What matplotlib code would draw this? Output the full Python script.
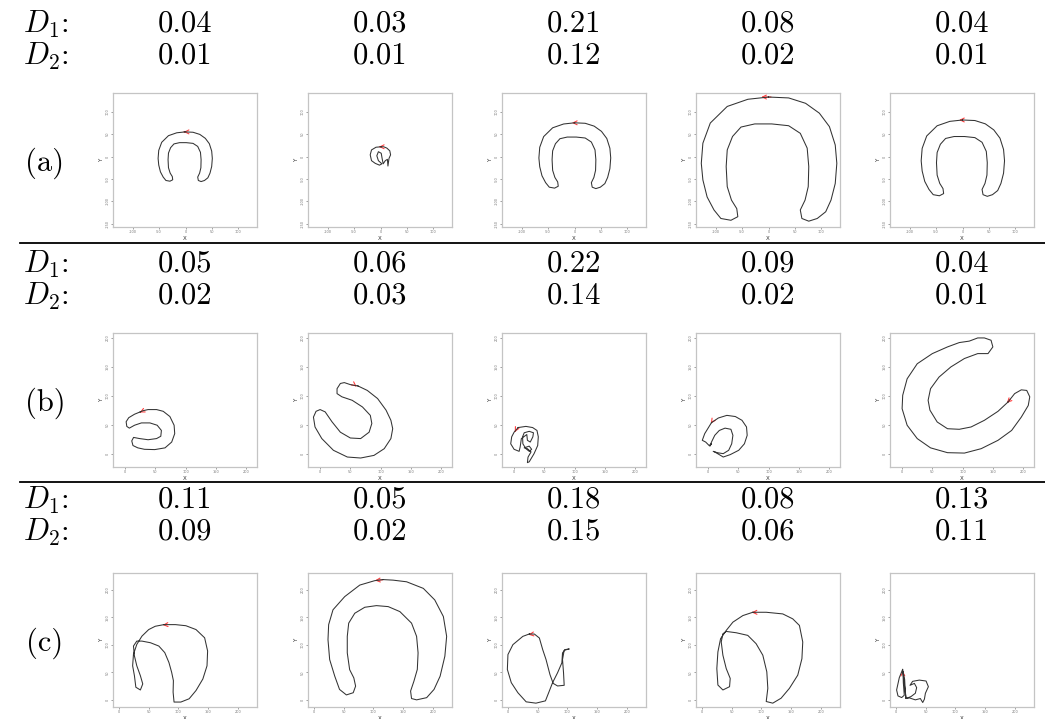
import matplotlib
matplotlib.use('Agg')
import matplotlib.pyplot as plt
from matplotlib.patches import FancyArrowPatch
from matplotlib.lines import Line2D

plt.rcParams['mathtext.fontset'] = 'cm'
plt.rcParams['axes.unicode_minus'] = False

# ---------------- data ----------------
row_labels = ['(a)', '(b)', '(c)']
d1_values = [[0.04, 0.03, 0.21, 0.08, 0.04],
             [0.05, 0.06, 0.22, 0.09, 0.04],
             [0.11, 0.05, 0.18, 0.08, 0.13]]
d2_values = [[0.01, 0.01, 0.12, 0.02, 0.01],
             [0.02, 0.03, 0.14, 0.02, 0.01],
             [0.09, 0.02, 0.15, 0.06, 0.11]]

# horseshoe outline (full-size, row (a) panel 4), data units
horseshoe = [(0, 133), (-39, 128), (-78, 112), (-110, 75), (-124, 30), (-127, -15),
             (-124, -52), (-116, -90), (-103, -119), (-90, -138), (-71, -142), (-58, -134),
             (-60, -116), (-70, -97), (-78, -67), (-80, -22), (-78, 15), (-68, 45),
             (-52, 66), (-26, 73), (6, 73), (38, 69), (60, 52), (73, 19), (76, -22),
             (75, -67), (69, -97), (60, -119), (63, -138), (76, -144), (92, -138),
             (108, -123), (118, -97), (126, -60), (129, -15), (126, 26), (115, 67),
             (96, 97), (70, 119), (38, 131)]
horseshoe_arrow = ((10, 133), (-19, 133))
# row (a): scale and offset of the horseshoe in each panel (None = own shape)
row_a_scale = [0.40, None, 0.53, 1.0, 0.615]
row_a_offset = [(-1, 2), None, (0, 5), (0, 0), (0, 0)]

shape_a2 = [(1.3, 22), (-8.5, 21), (-17, 15), (-19.5, 4), (-17, -9), (-10, -15), (-2, -19),
            (2.6, -16), (-4, -9), (-7, 2), (-4, 11), (1.3, 7.5), (3, -4), (5, -16), (9, -9),
            (13, -6), (14, -21), (16, -4), (19, 4), (17.5, 13), (12, 19), (6, 22)]
arrow_a2 = ((6, 22), (-3, 22))

shape_b1 = [(25, 72), (15.6, 68), (6, 62), (1.7, 55), (2.8, 47), (7, 44), (15.6, 49), (27, 53),
            (41, 53), (53, 49), (60, 40), (59, 30), (52, 26), (38, 24), (24, 26), (14, 28),
            (11, 22), (13, 14), (21, 10), (32, 7.5), (49, 7), (66, 10), (77, 20), (82, 34.5),
            (81, 49), (74, 64), (63, 73), (52, 76), (38, 76), (29.5, 74)]
arrow_b1 = ((30, 74), (20, 69))

shape_b2 = [(62.6, 116.7), (78, 109), (95, 95), (109, 75), (117, 57.5), (120, 43), (117, 26),
            (106, 8.6), (89, -3), (67, -7.5), (45, -5.8), (22, 5.8), (2.8, 26), (-8.4, 46),
            (-11, 63), (-6.7, 73), (0, 76), (8.4, 72), (19.6, 55), (33.5, 37), (50, 27),
            (67, 26), (81, 37), (85.5, 52), (83, 66), (70, 80.5), (53, 92), (36, 98),
            (28, 103.5), (28, 112), (33.5, 121), (40, 122.5), (50, 119)]
arrow_b2 = ((55, 120), (64, 113))

shape_b3 = [(6.7, 45), (19.5, 47), (30.6, 45), (37.8, 40), (40, 29), (39, 14), (33, 0),
            (25, -14), (22, -15.5), (23, -6), (28, 3), (22, 8.6), (16.7, 10), (25, 13),
            (29, 7.5), (25, 4), (19.5, 8.6), (14.5, 17), (14, 29), (16.7, 36), (25, 38.5),
            (32, 36), (31, 29), (26.7, 20), (22, 23), (21, 33), (12, 26), (10, 11.5),
            (8.3, 4), (0, 7.5), (-5.6, 17), (-4, 29), (0, 37)]
arrow_b3 = ((4, 43), (-1, 33))

shape_b4 = [(5.6, 53.5), (17, 61.5), (31, 66), (45, 64), (56, 57.5), (63.5, 46), (64.6, 31.6),
            (60, 17), (50.6, 5.8), (36.5, -1.7), (25, -5.8), (18.5, -1.7), (11, 2.9), (8.4, 4),
            (15, 1.7), (25, 0), (34, 5.8), (39, 17), (41, 31.6), (37.7, 42), (28, 44),
            (18.5, 40), (11, 31.6), (5.6, 20), (2.8, 13), (5.6, 17), (1.7, 14), (-4, 20),
            (-9.6, 23), (-5.6, 34.5), (0, 44)]
arrow_b4 = ((9, 59), (2, 48))

shape_b5 = [(175, 89), (158.5, 73), (136, 57.5), (114, 46), (94.5, 42), (75, 43), (58, 54.6),
            (46, 75), (43, 92), (47, 112), (61, 132), (80.6, 149.5), (103, 164), (125, 172.5),
            (142, 172.5), (150, 184), (147, 195.5), (136, 199.5), (125, 199.5), (111, 194),
            (94.5, 191.5), (75, 184), (50, 172.5), (25, 155), (8.3, 129), (1, 100.6), (0, 77.6),
            (8.3, 49), (25, 26), (47, 10), (75, 1.7), (103, 1), (130.7, 8.6), (158.5, 23),
            (181, 40), (197, 63), (208.5, 83), (211, 98), (206, 109), (197, 110), (186, 103.5)]
arrow_b5 = ((182, 97), (170, 84))

shape_c1 = [(75.5, 137), (61, 134), (50, 128), (38.6, 116), (30, 101), (24.4, 83), (23, 62),
            (26, 44), (28.4, 23), (36, 18), (40, 29), (36, 44), (30, 62), (26, 80), (24.4, 98),
            (30, 107), (38.6, 107), (53, 104), (67, 98), (77, 86), (84, 68), (88.6, 50),
            (91.5, 35), (91, 14), (92.6, -4), (104, -4), (118, 2), (129.5, 17), (141, 38),
            (148, 62), (149, 89), (144, 113), (129.5, 128), (112.5, 135), (95, 137)]
arrow_c1 = ((82, 137), (69, 136))

shape_c2 = [(116, 219), (102, 217), (77, 209), (51.7, 188), (32, 164), (24.7, 137),
            (23.6, 109.6), (26.4, 73.4), (35, 43), (43, 19), (54.5, 9), (66, 13), (70, 25),
            (67, 40), (60, 55), (56, 85.5), (56, 115.6), (58.4, 139.7), (68.6, 157.7),
            (85.4, 168.6), (105, 171.6), (124.8, 169.8), (144.4, 160.7), (164, 139.7),
            (172.5, 115.6), (175, 85.5), (173.7, 55.4), (168, 34), (162.4, 16), (164, 2.4),
            (172.5, 0), (189.4, 4), (201.8, 19), (212, 43), (220, 79.5), (223, 115.6),
            (217.5, 151.7), (203, 182), (183.8, 203), (155.7, 215), (133, 218)]
arrow_c2 = ((120, 219), (98, 217))

shape_c3 = [(36, 120), (25, 115.6), (8.3, 100.5), (0, 82.5), (-1, 55.4), (5.6, 31.3),
            (16.7, 13), (30.6, -3.6), (47, -6), (63, -1.8), (68.4, 13), (75, 31.3),
            (83.4, 49.4), (90.6, 67.4), (91.7, 85.5), (96, 91.5), (103, 92.7), (94.5, 90.3),
            (91.7, 73.4), (93.4, 49.4), (94.5, 26.5), (83.4, 25.3), (76, 30), (70.6, 46),
            (64, 73.4), (58.4, 91.5), (52.8, 112.6), (44.5, 119.8)]
arrow_c3 = ((43, 120), (30, 118))

shape_c4 = [(85.5, 159.5), (68.8, 153.5), (52, 141.5), (40.8, 126.4), (31.3, 111.4),
            (26.8, 87.3), (25, 57), (26.8, 27), (35.2, 18), (46.4, 24), (47.5, 39), (40.8, 57),
            (35.2, 81.3), (32.4, 105.4), (35.2, 120.4), (40.8, 124.6), (57.6, 122.2),
            (77, 117.4), (91, 102.3), (102.3, 81.3), (109, 51), (110.7, 21), (108, -3),
            (119, -6), (133, 3), (147, 21), (161, 45), (168, 75), (169.4, 105.4),
            (163.8, 135.5), (152.6, 147.5), (135.8, 156.5), (108, 159.5)]
arrow_c4 = ((94, 159.5), (79, 159))

shape_c5 = [(11.2, 55.4), (5.6, 40.3), (1.1, 18), (3.4, 7.2), (9.6, 4.2), (14, 8.4),
            (12.4, 31.3), (11.8, 52.4), (14.6, 37.3), (15.7, 16.3), (16.9, 2.4), (25.3, 6),
            (32.6, 12), (34.8, 22.3), (31, 30), (23.6, 26.5), (28, 33.7), (39.3, 36),
            (50.6, 34.3), (54.5, 24), (49.5, 12), (47.8, 1.2), (45, -4.8), (41, 2.4),
            (32.6, 0), (22.5, 3.6), (16.9, 2.4)]
arrow_c5 = ((11.5, 46), (11.2, 58))

row_shapes = [[None, shape_a2, None, None, None],
              [shape_b1, shape_b2, shape_b3, shape_b4, shape_b5],
              [shape_c1, shape_c2, shape_c3, shape_c4, shape_c5]]
row_arrows = [[None, arrow_a2, None, None, None],
              [arrow_b1, arrow_b2, arrow_b3, arrow_b4, arrow_b5],
              [arrow_c1, arrow_c2, arrow_c3, arrow_c4, arrow_c5]]

row_xlim = [(-137, 135), (-20, 218), (-10, 232)]
row_ylim = [(-157, 142), (-23, 208), (-13, 231)]
row_xticks = [[-100, -50, 0, 50, 100], [0, 50, 100, 150, 200], [0, 50, 100, 150, 200]]
row_yticks = [[-150, -100, -50, 0, 50, 100], [0, 50, 100, 150, 200], [0, 50, 100, 150, 200]]

# ---------------- layout ----------------
W, H = 1045, 719
fig = plt.figure(figsize=(W / 100, H / 100), dpi=100)

col_left = [113, 308, 502, 696, 890]
box_w, box_h = 144, 134
row_top = [93, 333, 573]
d1_y = [24, 264, 500]
d2_y = [56, 296, 532]
label_y = [163, 403, 643]
hline_y = [243, 482]
FS = 22


def fx(px):
    return px / W


def fy(py):
    return 1 - py / H


for r in range(3):
    fig.text(fx(23), fy(d1_y[r]), r'$D_1$:', fontsize=FS, family='cmr10',
             ha='left', va='center')
    fig.text(fx(23), fy(d2_y[r]), r'$D_2$:', fontsize=FS, family='cmr10',
             ha='left', va='center')
    fig.text(fx(45), fy(label_y[r]), row_labels[r], fontsize=FS, family='cmr10',
             ha='center', va='center')
    for c in range(5):
        cx = col_left[c] + box_w / 2
        fig.text(fx(cx), fy(d1_y[r]), '%.2f' % d1_values[r][c], fontsize=FS, family='cmr10',
                 ha='center', va='center')
        fig.text(fx(cx), fy(d2_y[r]), '%.2f' % d2_values[r][c], fontsize=FS, family='cmr10',
                 ha='center', va='center')

        ax = fig.add_axes([fx(col_left[c]), fy(row_top[r] + box_h), box_w / W, box_h / H])
        if r == 0 and row_a_scale[c] is not None:
            s = row_a_scale[c]
            ox, oy = row_a_offset[c]
            pts = [(s * x + ox, s * y + oy) for x, y in horseshoe]
            (tx, ty), (hx, hy) = horseshoe_arrow
            arrow = ((s * tx + ox, s * ty + oy), (s * hx + ox, s * hy + oy))
        else:
            pts = row_shapes[r][c]
            arrow = row_arrows[r][c]
        xs = [p[0] for p in pts] + [pts[0][0]]
        ys = [p[1] for p in pts] + [pts[0][1]]
        ax.plot(xs, ys, color='#333333', lw=0.75, solid_joinstyle='round')
        ax.add_patch(FancyArrowPatch(arrow[0], arrow[1], arrowstyle='->',
                                     mutation_scale=7, color='#ff4040', lw=0.8))
        ax.set_xlim(*row_xlim[r])
        ax.set_ylim(*row_ylim[r])
        ax.set_xticks(row_xticks[r])
        ax.set_yticks(row_yticks[r])
        ax.tick_params(labelsize=2.5, length=1.5, width=0.4, color='#555555',
                       labelcolor='#777777', pad=1)
        for lab in ax.get_yticklabels():
            lab.set_rotation(90)
            lab.set_va('center')
        ax.set_xlabel('X', fontsize=4, labelpad=1, color='#333333')
        ax.set_ylabel('Y', fontsize=4, labelpad=1, color='#333333')
        for sp in ax.spines.values():
            sp.set_color('#c4c4c4')
            sp.set_linewidth(0.9)

for y in hline_y:
    fig.add_artist(Line2D([fx(20), 1.0], [fy(y), fy(y)], color='black', lw=1.3))

fig.savefig('out.png', dpi=100)
